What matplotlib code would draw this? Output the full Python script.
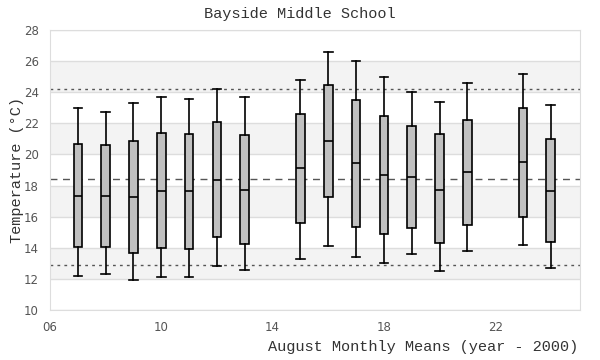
import matplotlib
matplotlib.use("Agg")
import matplotlib.pyplot as plt

years = [7, 8, 9, 10, 11, 12, 13, 15, 16, 17, 18, 19, 20, 21, 23, 24]
whisker_lo = [12.16, 12.29, 11.93, 12.10, 12.10, 12.83, 12.55, 13.26, 14.09, 13.39, 13.02, 13.60, 12.51, 13.79, 14.16, 12.68]
q1 = [14.03, 14.03, 13.65, 13.97, 13.90, 14.67, 14.22, 15.57, 17.24, 15.32, 14.87, 15.25, 14.31, 15.45, 15.96, 14.37]
medians = [17.35, 17.31, 17.24, 17.63, 17.63, 18.33, 17.69, 19.11, 20.84, 19.43, 18.68, 18.53, 17.74, 18.85, 19.49, 17.63]
q3 = [20.65, 20.59, 20.84, 21.36, 21.29, 22.07, 21.23, 22.58, 24.44, 23.50, 22.45, 21.81, 21.29, 22.20, 22.97, 20.97]
whisker_hi = [22.97, 22.75, 23.29, 23.67, 23.59, 24.19, 23.67, 24.77, 26.56, 25.99, 24.96, 23.99, 23.35, 24.59, 25.15, 23.16]

overall_mean = 18.42
upper_limit = 24.19
lower_limit = 12.87

x_ticks = [6, 10, 14, 18, 22]
x_tick_labels = ["06", "10", "14", "18", "22"]
y_ticks = [10, 12, 14, 16, 18, 20, 22, 24, 26, 28]

mono = ["Liberation Mono", "DejaVu Sans Mono"]

fig = plt.figure(figsize=(6, 3.6), dpi=100)
ax = fig.add_axes([50 / 600, 50 / 360, 530 / 600, 280 / 360])

# alternating background bands
for lo in range(12, 28, 4):
    ax.axhspan(lo, lo + 2, color="#f3f3f3", zorder=0, lw=0)
for y in y_ticks:
    ax.axhline(y, color="#dddddd", lw=1, zorder=0.5)

stats = []
for i in range(len(years)):
    stats.append({
        "whislo": whisker_lo[i], "q1": q1[i], "med": medians[i],
        "q3": q3[i], "whishi": whisker_hi[i], "fliers": [],
    })

ax.bxp(stats, positions=years, widths=0.31, patch_artist=True,
       showfliers=False, manage_ticks=False,
       boxprops=dict(facecolor="#c0c0c0", edgecolor="black", lw=1.2),
       medianprops=dict(color="black", lw=1.2),
       whiskerprops=dict(color="black", lw=1.2),
       capprops=dict(color="black", lw=1.2), capwidths=0.31)

ax.axhline(overall_mean, color="#555555", lw=1, ls=(0, (5, 4)), zorder=1)
ax.axhline(upper_limit, color="#555555", lw=1, ls=(0, (2, 3)), zorder=1)
ax.axhline(lower_limit, color="#555555", lw=1, ls=(0, (2, 3)), zorder=1)

ax.set_xlim(6, 25.05)
ax.set_ylim(10, 28)
ax.set_xticks(x_ticks)
ax.set_xticklabels(x_tick_labels)
ax.set_yticks(y_ticks)
ax.tick_params(length=0, labelsize=8.5, colors="#555555", pad=8)
for s in ax.spines.values():
    s.set_color("#dddddd")

fig.text(17 / 600, 1 - 170 / 360, "Temperature (°C)", family=mono, fontsize=11,
         color="#333333", ha="center", va="center", rotation=90)
fig.text(300 / 600, 1 - 14 / 360, "Bayside Middle School", family=mono, fontsize=11,
         color="#333333", ha="center", va="center")
fig.text(578 / 600, 1 - 347 / 360, "August Monthly Means (year - 2000)", family=mono,
         fontsize=11, color="#333333", ha="right", va="center")

fig.savefig("out.png", dpi=100)
